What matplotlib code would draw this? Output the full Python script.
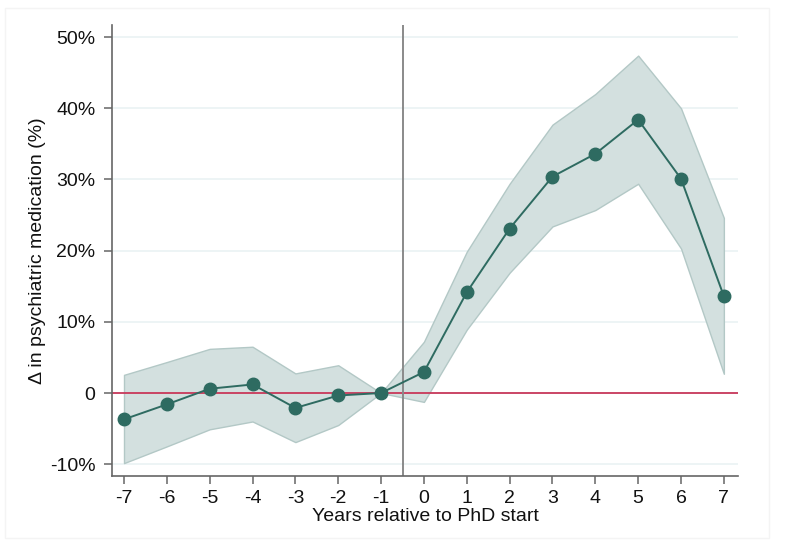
import matplotlib
matplotlib.use("Agg")
import matplotlib.pyplot as plt
from matplotlib.ticker import FuncFormatter
from matplotlib.patches import Rectangle

years = [-7, -6, -5, -4, -3, -2, -1, 0, 1, 2, 3, 4, 5, 6, 7]
est = [-3.7, -1.6, 0.6, 1.2, -2.1, -0.35, 0.0, 2.95, 14.15, 23.1, 30.4, 33.6, 38.4, 30.1, 13.6]
upper = [2.55, 4.35, 6.2, 6.5, 2.75, 3.9, 0.0, 7.2, 19.85, 29.4, 37.7, 42.0, 47.4, 40.0, 24.6]
lower = [-9.85, -7.5, -5.1, -4.0, -6.9, -4.5, 0.0, -1.25, 8.9, 16.9, 23.4, 25.7, 29.4, 20.3, 2.7]
yticks = [-10, 0, 10, 20, 30, 40, 50]

plt.rcParams['font.family'] = ['Liberation Sans', 'DejaVu Sans']
plt.rcParams['axes.unicode_minus'] = False

fig = plt.figure(figsize=(8.04, 5.41), dpi=100)
fig.patches.append(Rectangle((0.006, 0.006), 0.95, 0.98, transform=fig.transFigure,
                             fill=False, edgecolor='#f4f4f4', linewidth=1))
ax = fig.add_axes([112/804, 1 - 476/541, 626/804, 451/541])

for t in yticks:
    ax.axhline(t, color='#eaf2f3', linewidth=1.2, zorder=0)

ax.fill_between(years, lower, upper, facecolor='#d3e0df', edgecolor='#b3c8c6',
                linewidth=1, zorder=1)
ax.axhline(0, color='#c8385a', linewidth=1.3, zorder=2)
ax.axvline(-0.5, color='#8a8a8a', linewidth=1.4, zorder=2)
ax.plot(years, est, color='#2e6b61', linewidth=1.4, marker='o', markersize=9,
        markerfacecolor='#2e6b61', markeredgecolor='#2e6b61', zorder=3)

ax.set_xlim(-7.28, 7.33)
ax.set_ylim(-11.66, 51.7)
ax.set_xticks(years)
ax.set_yticks(yticks)
ax.yaxis.set_major_formatter(FuncFormatter(lambda v, p: '0' if v == 0 else f'{v:.0f}%'))

for s in ['top', 'right']:
    ax.spines[s].set_visible(False)
for s in ['left', 'bottom']:
    ax.spines[s].set_color('#666666')
    ax.spines[s].set_linewidth(1.2)
ax.tick_params(axis='both', direction='out', length=6, width=1.1, color='#666666',
               labelsize=14, labelcolor='#111111')
ax.tick_params(axis='y', pad=6)
ax.tick_params(axis='x', pad=4)

ax.set_xlabel('Years relative to PhD start', fontsize=14, labelpad=1, color='#111111')
ax.set_ylabel('Δ in psychiatric medication (%)', fontsize=14, labelpad=3, color='#111111')

fig.savefig('out.png', dpi=100)
